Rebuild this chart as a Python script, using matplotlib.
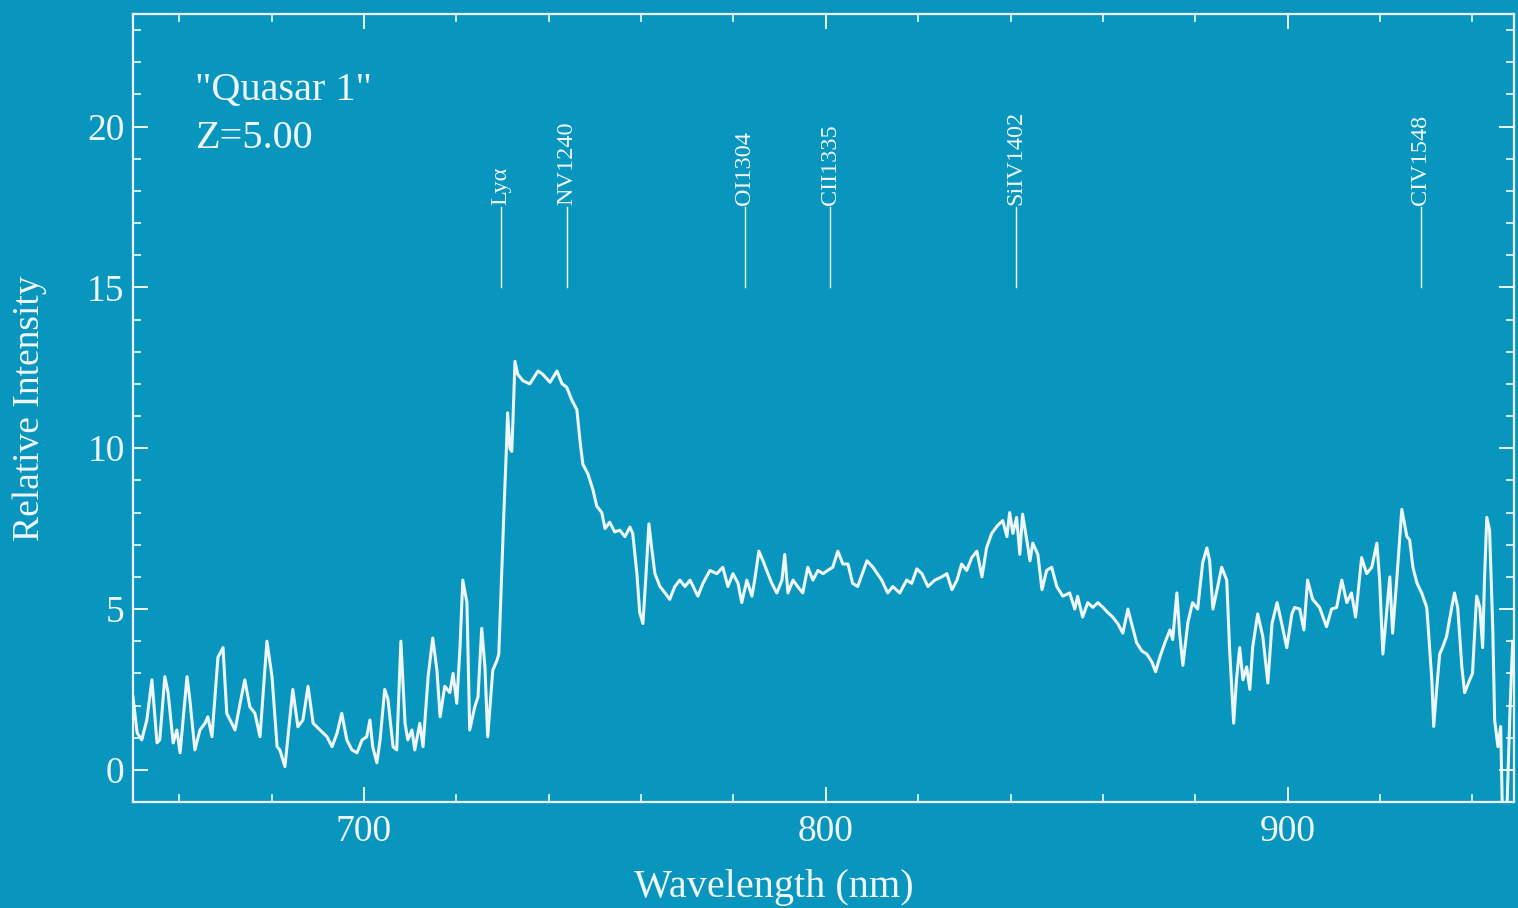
import numpy as np
import matplotlib
matplotlib.use("Agg")
import matplotlib.pyplot as plt

# spectrum (wavelength in nm, relative intensity)
wavelength = [
    650.0, 650.9, 651.9, 653.0, 654.1, 655.2, 655.8, 656.9, 657.6, 658.7,
    659.5, 660.2, 661.7, 662.3, 663.4, 664.5, 665.6, 666.2, 667.1, 668.4,
    669.5, 670.3, 672.1, 673.2, 674.2, 675.3, 676.4, 677.5, 679.0, 680.1,
    681.2, 681.8, 682.9, 684.6, 685.7, 686.8, 687.9, 689.0, 690.5, 692.0,
    693.1, 694.2, 695.2, 696.3, 697.4, 698.5, 699.6, 700.6, 701.3, 701.9,
    702.8, 703.5, 704.5, 705.2, 706.3, 707.1, 708.0, 708.9, 709.5, 710.4,
    711.0, 712.1, 712.8, 713.9, 714.9, 715.8, 716.5, 717.5, 718.6, 719.3,
    720.1, 720.8, 721.4, 722.3, 722.9, 724.0, 724.7, 725.5, 726.2, 726.8,
    727.9, 728.8, 729.2, 729.8, 730.3, 730.9, 731.1, 731.6, 732.0, 732.3,
    732.7, 733.3, 734.4, 735.9, 737.7, 738.7, 740.3, 741.8, 742.9, 743.9,
    745.0, 746.1, 746.8, 747.4, 748.5, 749.6, 750.4, 751.5, 752.2, 753.2,
    754.3, 755.4, 756.5, 757.6, 758.2, 759.1, 759.7, 760.4, 761.0, 761.7,
    762.3, 763.0, 764.1, 765.2, 766.2, 767.3, 768.4, 769.5, 770.6, 772.3,
    773.4, 774.9, 776.4, 777.7, 778.8, 779.9, 781.0, 781.8, 782.9, 784.0,
    784.6, 785.5, 786.4, 787.2, 788.3, 789.4, 790.5, 791.1, 791.8, 792.9,
    793.9, 795.0, 796.1, 797.2, 798.3, 799.4, 800.4, 801.5, 802.6, 803.7,
    804.8, 805.8, 806.9, 807.4, 808.9, 810.2, 812.1, 813.4, 814.5, 816.0,
    817.5, 818.6, 819.7, 820.8, 822.1, 823.6, 825.1, 826.2, 827.3, 828.4,
    829.4, 830.5, 831.6, 832.7, 833.8, 834.8, 835.9, 837.2, 838.3, 839.2,
    839.8, 840.5, 841.3, 842.0, 842.6, 843.5, 844.2, 844.8, 845.9, 846.8,
    847.8, 848.9, 850.0, 851.3, 852.8, 853.9, 854.5, 855.6, 856.7, 857.8,
    858.9, 860.0, 861.0, 862.1, 863.2, 864.3, 865.4, 866.2, 867.3, 868.4,
    869.5, 870.6, 871.4, 872.3, 873.4, 874.5, 875.1, 876.0, 876.6, 877.3,
    878.4, 879.4, 880.5, 881.6, 882.5, 883.1, 883.8, 884.7, 885.7, 886.8,
    887.4, 888.3, 888.9, 889.6, 890.3, 891.1, 891.8, 892.4, 893.5, 894.6,
    895.7, 896.6, 897.7, 898.7, 899.8, 900.9, 901.5, 902.6, 903.5, 904.3,
    905.4, 906.9, 908.4, 909.5, 910.6, 911.7, 912.8, 913.8, 914.7, 916.0,
    917.1, 918.2, 919.3, 919.9, 920.6, 921.5, 922.1, 922.7, 923.6, 924.7,
    925.8, 926.4, 927.1, 928.0, 929.0, 930.1, 930.5, 931.2, 931.6, 932.3,
    932.9, 933.5, 934.4, 935.5, 936.1, 936.8, 937.7, 938.3, 939.4, 940.0,
    940.9, 941.6, 942.2, 942.6, 943.1, 943.7, 944.4, 944.8, 945.5, 946.1,
    946.5, 947.4, 948.1, 948.7,
]
intensity = [
    2.27, 1.15, 0.93, 1.55, 2.8, 0.84, 0.93, 2.9, 2.4, 0.84,
    1.24, 0.53, 2.9, 2.2, 0.62, 1.24, 1.45, 1.65, 1.03, 3.5,
    3.8, 1.76, 1.24, 2.07, 2.8, 1.96, 1.76, 1.03, 4.0, 2.9,
    0.72, 0.62, 0.1, 2.5, 1.34, 1.55, 2.6, 1.45, 1.24, 1.03,
    0.72, 1.15, 1.76, 0.93, 0.62, 0.53, 0.93, 1.03, 1.55, 0.72,
    0.22, 0.93, 2.5, 2.2, 0.72, 0.62, 4.0, 1.45, 0.93, 1.24,
    0.62, 1.45, 0.72, 2.9, 4.1, 3.1, 1.65, 2.6, 2.4, 3.0,
    2.07, 3.8, 5.9, 5.2, 1.24, 1.96, 2.27, 4.4, 3.2, 1.03,
    3.1, 3.4, 3.6, 6.0, 8.0, 10.2, 11.1, 10.0, 9.9, 11.0,
    12.7, 12.3, 12.1, 12.0, 12.4, 12.3, 12.05, 12.4, 12.0, 11.9,
    11.5, 11.2, 10.2, 9.5, 9.2, 8.7, 8.2, 8.0, 7.5, 7.7,
    7.4, 7.45, 7.25, 7.55, 7.35, 6.1, 4.9, 4.55, 5.9, 7.65,
    6.9, 6.1, 5.7, 5.5, 5.3, 5.7, 5.9, 5.7, 5.9, 5.4,
    5.8, 6.2, 6.1, 6.3, 5.7, 6.1, 5.8, 5.2, 5.9, 5.4,
    5.9, 6.8, 6.5, 6.2, 5.8, 5.5, 5.9, 6.7, 5.5, 5.9,
    5.7, 5.5, 6.3, 5.9, 6.2, 6.1, 6.2, 6.3, 6.8, 6.4,
    6.4, 5.8, 5.7, 5.9, 6.5, 6.3, 5.9, 5.5, 5.7, 5.5,
    5.9, 5.8, 6.25, 6.1, 5.7, 5.9, 6.0, 6.1, 5.6, 5.9,
    6.4, 6.2, 6.6, 6.8, 6.0, 6.9, 7.35, 7.6, 7.75, 7.25,
    8.0, 7.35, 7.85, 6.7, 7.95, 7.15, 6.5, 7.05, 6.7, 5.6,
    6.2, 6.3, 5.7, 5.4, 5.5, 5.0, 5.4, 4.75, 5.2, 5.05,
    5.2, 5.05, 4.9, 4.75, 4.55, 4.25, 5.0, 4.55, 3.95, 3.7,
    3.6, 3.35, 3.05, 3.5, 3.95, 4.35, 4.05, 5.5, 4.25, 3.25,
    4.6, 5.2, 5.0, 6.45, 6.9, 6.5, 5.0, 5.6, 6.3, 5.9,
    3.8, 1.45, 2.8, 3.8, 2.8, 3.2, 2.5, 3.8, 4.85, 4.15,
    2.7, 4.55, 5.2, 4.55, 3.8, 4.85, 5.05, 5.0, 4.35, 5.9,
    5.3, 5.05, 4.45, 5.0, 5.05, 5.9, 5.2, 5.5, 4.75, 6.6,
    6.1, 6.3, 7.05, 5.9, 3.6, 5.05, 6.0, 4.25, 5.9, 8.1,
    7.25, 7.15, 6.3, 5.8, 5.5, 5.05, 4.25, 2.8, 1.35, 2.6,
    3.6, 3.8, 4.15, 5.05, 5.5, 5.05, 3.2, 2.4, 2.8, 3.0,
    5.4, 5.05, 3.8, 5.9, 7.85, 7.45, 4.35, 1.55, 0.72, 1.35,
    -1.5, -1.5, 1.77, 4.0,
]

# emission lines (rest wavelength in Angstrom) and redshift
line_names = ["Ly\u03b1", "NV1240", "OI1304", "CII1335", "SiIV1402", "CIV1548"]
line_rest = [1216, 1240, 1304, 1335, 1402, 1548]
redshift = 5.00
object_name = "Quasar 1"

bg = "#0896bf"
fg = "#eef7fa"

plt.rcParams["font.family"] = ["Liberation Serif", "DejaVu Serif"]

fig = plt.figure(figsize=(15.18, 9.08), dpi=100, facecolor=bg)
ax = fig.add_axes([0.0876, 0.1167, 0.9098, 0.8679], facecolor=bg)

ax.plot(wavelength, intensity, color=fg, lw=2.2, clip_on=True)

# line markers
obs = [r * (1 + redshift) / 10 for r in line_rest]
for name, x in zip(line_names, obs):
    ax.plot([x, x], [15.0, 17.5], color=fg, lw=1.0)
    ax.text(x, 17.55, name, rotation=90, ha="center", va="bottom",
            fontsize=17.5, color=fg)

ax.text(0.045, 0.891, f'"{object_name}"', transform=ax.transAxes,
        fontsize=29, color=fg, va="baseline", ha="left")
ax.text(0.045, 0.830, f"Z={redshift:.2f}", transform=ax.transAxes,
        fontsize=29, color=fg, va="baseline", ha="left")

ax.set_xlim(650, 949)
ax.set_ylim(-1, 23.5)
ax.set_xticks([700, 800, 900])
ax.set_xticks(np.arange(660, 949, 20), minor=True)
ax.set_yticks([0, 5, 10, 15, 20])
ax.set_yticks(np.arange(0, 24, 1), minor=True)

for s in ax.spines.values():
    s.set_color(fg)
    s.set_linewidth(1.6)

ax.tick_params(which="both", direction="in", top=True, right=True,
               colors=fg, labelcolor=fg, labelsize=27)
ax.tick_params(which="major", length=11, width=1.4)
ax.tick_params(which="minor", length=6, width=1.2)
ax.tick_params(axis="x", pad=9)
ax.tick_params(axis="y", pad=6)

ax.set_xlabel("Wavelength (nm)", fontsize=29, color=fg)
ax.xaxis.set_label_coords(0.464, -0.085)
ax.set_ylabel("Relative Intensity", fontsize=27, color=fg)
ax.yaxis.set_label_coords(-0.062, 0.5)

fig.savefig("out.png", dpi=100, facecolor=bg)
